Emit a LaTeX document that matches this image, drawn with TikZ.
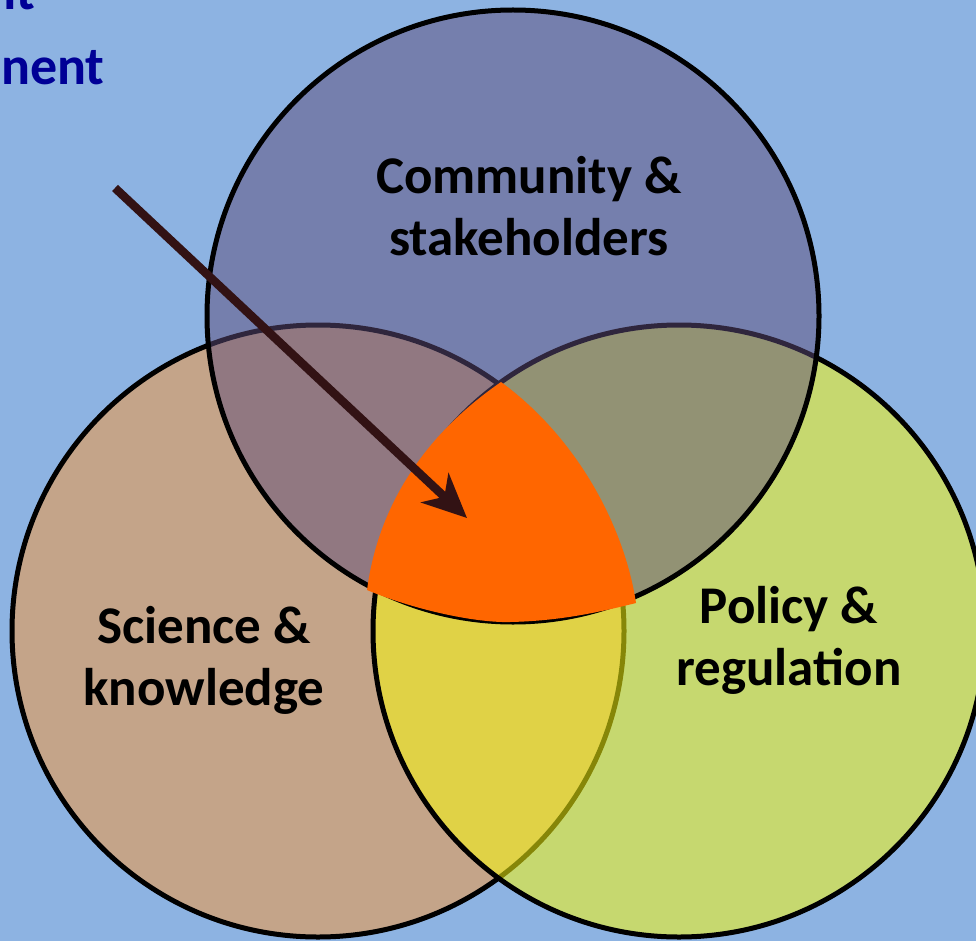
\documentclass[tikz,border=0pt]{standalone}
\usepackage{fontspec}
\setmainfont{Carlito}
\usepackage{tikz}
\usetikzlibrary{arrows.meta}
\definecolor{bgblue}{RGB}{141,179,226}
\definecolor{commpurple}{RGB}{95,77,122}
\definecolor{sciencetan}{RGB}{196,164,137}
\definecolor{policyyellow}{RGB}{248,249,15}
\definecolor{coreorange}{RGB}{255,102,0}
\definecolor{arrowbrown}{RGB}{50,18,20}
\definecolor{titleblue}{RGB}{0,0,150}

\begin{document}
\begin{tikzpicture}[x=1pt, y=-1pt]
    \tikzstyle{ring} = [draw=black, line width=5pt]
    \tikzstyle{label} = [align=center, font=\fontsize{53}{62}\selectfont\bfseries]
    \tikzstyle{title} = [text=titleblue, inner sep=0pt, font=\fontsize{54}{64}\selectfont\bfseries]
    \tikzstyle{pointer} = [line width=8.5pt, draw=arrowbrown, -{Stealth[length=44pt, width=40pt, inset=13pt]}]

    \clip (0,0) rectangle (976,941);
    \fill [bgblue] (0,0) rectangle (976,941);

    % the three circles
    \filldraw [ring, fill=sciencetan] (318,631) circle (306pt);
    \filldraw [ring, fill=policyyellow, fill opacity=0.54] (679,631) circle (306pt);
    \filldraw [ring, fill=commpurple, fill opacity=0.5] (513,316) circle (306pt);

    % common ground
    \fill [coreorange] (501,382) .. controls (475,400) and (455,418) .. (437,438)
        .. controls (400,480) and (375,530) .. (367,590)
        .. controls (420,612) and (480,623) .. (510,622)
        .. controls (560,621) and (600,612) .. (636,603)
        .. controls (625,530) and (580,440) .. (501,382) -- cycle;

    \node [label] (community) at (529,206) {Community \&\\stakeholders};
    \node [label] (science) at (204,660) {Science \&\\knowledge};
    \node [label] (policy) at (789,640) {Policy \&\\regulation};

    \node [title, anchor=base east] (titletop) at (35,10) {nt};
    \node [title, anchor=base west] (titlebottom) at (1,85) {nent};

    \coordinate (start) at (115,188);
    \coordinate (tip) at (467,518);
    \draw [pointer] (start) -- (tip);
\end{tikzpicture}
\end{document}
